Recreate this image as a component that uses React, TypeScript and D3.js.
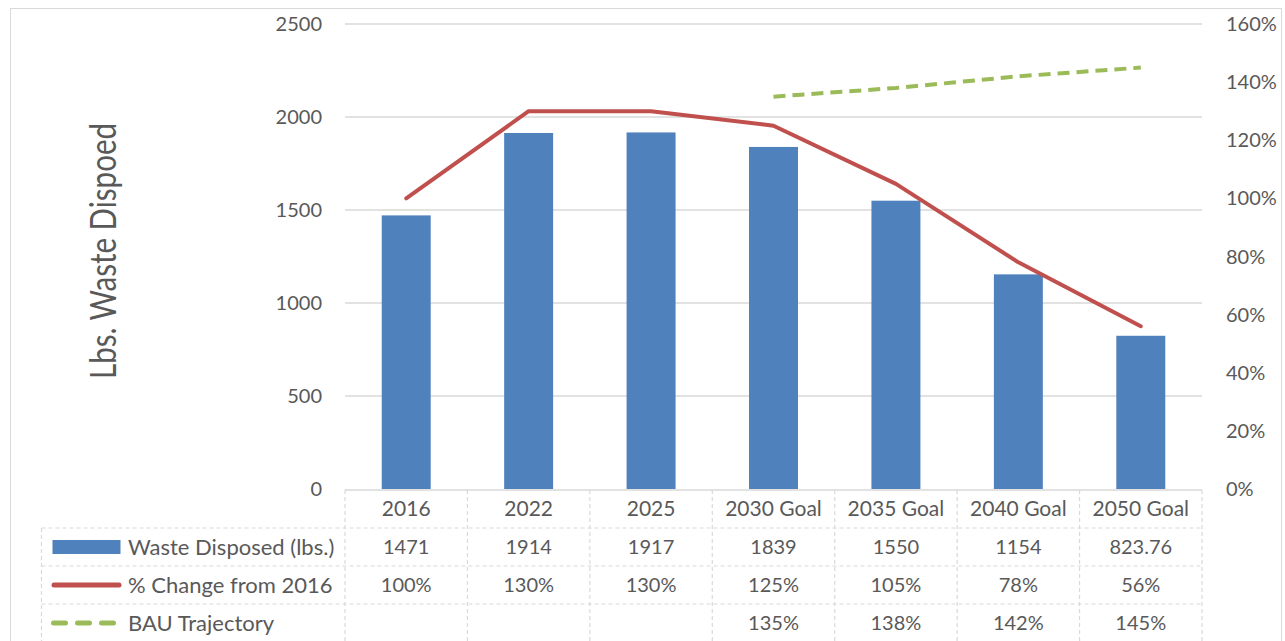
import React from "react";
import * as d3 from "d3";

const categories = ["2016", "2022", "2025", "2030 Goal", "2035 Goal", "2040 Goal", "2050 Goal"];
const wasteDisposed = [1471, 1914, 1917, 1839, 1550, 1154, 823.76];
const wasteLabels = ["1471", "1914", "1917", "1839", "1550", "1154", "823.76"];
const pctChange = [100, 130, 130, 125, 105, 78, 56];
const bauTrajectory: (number | null)[] = [null, null, null, 135, 138, 142, 145];
const leftTicks = [0, 500, 1000, 1500, 2000, 2500];
const rightTicks = [0, 20, 40, 60, 80, 100, 120, 140, 160];

const W = 1285, H = 641;
const plotL = 345, plotR = 1202, plotT = 24, plotB = 489;
const rowH = 38;
const tableL = 41.5;
const BLUE = "#4f81bd", RED = "#c0504d", GREEN = "#9bbb59";
const TXT = "#595959", GRID = "#d9d9d9";
const FONT = "Lato, 'Open Sans', sans-serif";

export default function App() {
  const x = d3.scaleBand<string>().domain(categories).range([plotL, plotR]).paddingInner(0).paddingOuter(0);
  const yL = d3.scaleLinear().domain([0, 2500]).range([plotB, plotT]);
  const yR = d3.scaleLinear().domain([0, 160]).range([plotB, plotT]);
  const bw = x.bandwidth() * 0.4;
  const cx = (c: string) => (x(c) as number) + x.bandwidth() / 2;

  const redLine = d3.line<number>().x((_, i) => cx(categories[i])).y(d => yR(d));
  const bauPts = bauTrajectory.map((v, i) => ({ v, c: categories[i] })).filter(d => d.v !== null) as { v: number; c: string }[];
  const greenLine = d3.line<{ v: number; c: string }>().x(d => cx(d.c)).y(d => yR(d.v));

  const rows = [
    { key: "waste", label: "Waste Disposed (lbs.)", values: wasteLabels },
    { key: "pct", label: "% Change from 2016", values: pctChange.map(v => `${v}%`) },
    { key: "bau", label: "BAU Trajectory", values: bauTrajectory.map(v => (v === null ? "" : `${v}%`)) },
  ];
  const colEdges = [plotL, ...categories.map(c => (x(c) as number) + x.bandwidth())];
  const dash = "4,3";

  return (
    <svg width={W} height={H} style={{ position: "absolute", left: 0, top: 0, background: "#fff" }} fontFamily={FONT}>
      <rect x={10.5} y={8.5} width={1271} height={640} fill="#fff" stroke={GRID} strokeWidth={1} />
      {leftTicks.filter(t => t > 0).map(t => (
        <line key={t} x1={plotL} x2={plotR} y1={yL(t)} y2={yL(t)} stroke={GRID} strokeWidth={1.5} />
      ))}
      {leftTicks.map(t => (
        <text key={t} x={322} y={yL(t)} dy="0.35em" textAnchor="end" fontSize={20} fill={TXT}>{t}</text>
      ))}
      {rightTicks.map(t => (
        <text key={t} x={1226} y={yR(t)} dy="0.35em" textAnchor="start" fontSize={20} fill={TXT}>{`${t}%`}</text>
      ))}
      <text transform={`translate(116,${251}) rotate(-90)`} textAnchor="middle" fontSize={36} fill={TXT}
        textLength={256} lengthAdjust="spacingAndGlyphs">Lbs. Waste Dispoed</text>
      {wasteDisposed.map((v, i) => (
        <rect key={i} x={cx(categories[i]) - bw / 2} y={yL(v)} width={bw} height={plotB - yL(v)} fill={BLUE} />
      ))}
      <path d={redLine(pctChange) || ""} fill="none" stroke={RED} strokeWidth={4} strokeLinejoin="round" strokeLinecap="round" />
      <path d={greenLine(bauPts) || ""} fill="none" stroke={GREEN} strokeWidth={4} strokeDasharray="12,7" />
      <line x1={plotL} x2={plotR} y1={plotB + 1} y2={plotB + 1} stroke={GRID} strokeWidth={1.5} />
      {[1, 2, 3].map(r => (
        <line key={r} x1={tableL} x2={plotR} y1={plotB + 1 + rowH * r} y2={plotB + 1 + rowH * r} stroke={GRID} strokeDasharray={dash} strokeWidth={1.2} />
      ))}
      {colEdges.map((e, i) => (
        <line key={i} x1={e} x2={e} y1={plotB + 1} y2={H} stroke={GRID} strokeDasharray={dash} strokeWidth={1.2} />
      ))}
      <line x1={tableL} x2={tableL} y1={plotB + 1 + rowH} y2={H} stroke={GRID} strokeDasharray={dash} strokeWidth={1.2} />
      {categories.map(c => (
        <text key={c} x={cx(c)} y={plotB + 1 + rowH / 2} dy="0.35em" textAnchor="middle" fontSize={21} fill={TXT}>{c}</text>
      ))}
      {rows.map((row, r) => {
        const yMid = plotB + 1 + rowH * (r + 1) + rowH / 2;
        return (
          <g key={row.key}>
            {row.key === "waste" && <rect x={52.5} y={yMid - 7} width={68} height={14} fill={BLUE} />}
            {row.key === "pct" && <line x1={54} x2={119} y1={yMid} y2={yMid} stroke={RED} strokeWidth={5} strokeLinecap="round" />}
            {row.key === "bau" && <line x1={53.5} x2={114} y1={yMid} y2={yMid} stroke={GREEN} strokeWidth={5} strokeLinecap="round" strokeDasharray="12,12" />}
            <text x={128} y={yMid} dy="0.35em" fontSize={22} fill={TXT}>{row.label}</text>
            {row.values.map((v, i) => (
              <text key={i} x={cx(categories[i])} y={yMid} dy="0.35em" textAnchor="middle" fontSize={20} fill={TXT}>{v}</text>
            ))}
          </g>
        );
      })}
    </svg>
  );
}
